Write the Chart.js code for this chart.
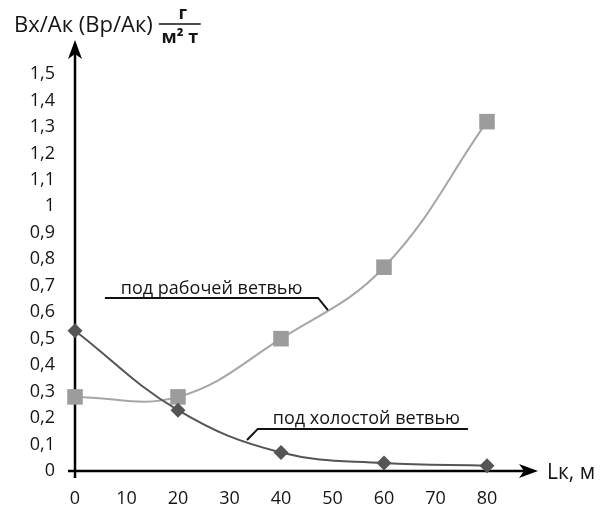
<!DOCTYPE html>
<html><head><meta charset="utf-8">
<script src="https://cdn.jsdelivr.net/npm/chart.js@4"></script>
<style>html,body{margin:0;padding:0;background:#fff}#wrap{width:607px;height:509px;position:relative}</style>
</head><body><div id="wrap"><canvas id="c" width="607" height="509"></canvas></div>
<script>
const distances = [0, 20, 40, 60, 80];
const workingBranch = [0.28, 0.28, 0.50, 0.77, 1.32];
const idleBranch = [0.53, 0.23, 0.07, 0.03, 0.02];
const xTickValues = [0, 10, 20, 30, 40, 50, 60, 70, 80];
const yTickValues = [0, 0.1, 0.2, 0.3, 0.4, 0.5, 0.6, 0.7, 0.8, 0.9, 1, 1.1, 1.2, 1.3, 1.4, 1.5];
const yTitle = 'Вх/Ак (Вр/Ак)';
const unitNum = 'г';
const unitDen = 'м² т';
const xTitle = 'Lк, м';
const labelWorking = 'под рабочей ветвью';
const labelIdle = 'под холостой ветвью';

const FONT = '"Open Sans", "DejaVu Sans", sans-serif';
const TXT = '#151515';

function fmt(v){ return String(Number(Number(v).toFixed(1))).replace('.', ','); }

function arrow(ctx, tx, ty, dx, dy){
  const L = 19, W = 7, N = 5;
  const px = -dy, py = dx;
  ctx.beginPath();
  ctx.moveTo(tx, ty);
  ctx.lineTo(tx - dx*L + px*W, ty - dy*L + py*W);
  ctx.lineTo(tx - dx*(L-N), ty - dy*(L-N));
  ctx.lineTo(tx - dx*L - px*W, ty - dy*L - py*W);
  ctx.closePath();
  ctx.fill();
}

const decor = {
  id: 'decor',
  beforeDatasetsDraw(chart){
    const {ctx, scales:{x, y}} = chart;
    const x0 = x.getPixelForValue(0), y0 = y.getPixelForValue(0);
    const xEnd = x.getPixelForValue(80) + 51;
    const yEnd = y.getPixelForValue(1.5) - 34;
    ctx.save();
    ctx.strokeStyle = '#000'; ctx.fillStyle = '#000'; ctx.lineWidth = 2.5;
    ctx.beginPath(); ctx.moveTo(x0 - 7, y0); ctx.lineTo(xEnd - 10, y0); ctx.stroke();
    ctx.beginPath(); ctx.moveTo(x0, y0 + 7); ctx.lineTo(x0, yEnd + 10); ctx.stroke();
    arrow(ctx, xEnd, y0, 1, 0);
    arrow(ctx, x0, yEnd, 0, -1);
    ctx.fillStyle = TXT;
    ctx.font = '21px ' + FONT;
    ctx.textBaseline = 'alphabetic'; ctx.textAlign = 'left';
    ctx.fillText(xTitle, xEnd + 9, y0 + 8);
    ctx.font = '22px ' + FONT;
    ctx.fillText(yTitle, 14, 32);
    const w = ctx.measureText(yTitle).width;
    const fx = 14 + w + 6, fw = 42;
    ctx.lineWidth = 1.4; ctx.strokeStyle = TXT;
    ctx.beginPath(); ctx.moveTo(fx, 24); ctx.lineTo(fx + fw, 24); ctx.stroke();
    ctx.textAlign = 'center';
    ctx.font = 'bold 18px ' + FONT;
    ctx.fillText(unitNum, fx + fw/2 + 3, 19);
    ctx.fillText(unitDen, fx + fw/2, 43);
    ctx.restore();
  },
  afterDatasetsDraw(chart){
    const {ctx, scales:{x, y}} = chart;
    const P = (a, b) => [x.getPixelForValue(a), y.getPixelForValue(b)];
    ctx.save();
    ctx.fillStyle = TXT; ctx.strokeStyle = '#111'; ctx.lineWidth = 2;
    ctx.font = '18px ' + FONT; ctx.textAlign = 'left'; ctx.textBaseline = 'alphabetic';
    let t = P(8.9, 0.668); ctx.fillText(labelWorking, t[0], t[1]);
    let a = P(5.8, 0.654), b = P(47.2, 0.654), c = P(49.1, 0.608);
    ctx.beginPath(); ctx.moveTo(a[0], a[1]); ctx.lineTo(b[0], b[1]); ctx.lineTo(c[0], c[1]); ctx.stroke();
    t = P(38.4, 0.176); ctx.fillText(labelIdle, t[0], t[1]);
    a = P(76.3, 0.159); b = P(35.5, 0.159); c = P(33.4, 0.117);
    ctx.beginPath(); ctx.moveTo(a[0], a[1]); ctx.lineTo(b[0], b[1]); ctx.lineTo(c[0], c[1]); ctx.stroke();
    ctx.restore();
  }
};

new Chart(document.getElementById('c'), {
  type: 'line',
  data: {
    datasets: [
      {
        label: labelWorking,
        data: distances.map((d, i) => ({x: d, y: workingBranch[i]})),
        borderColor: '#a6a6a6', backgroundColor: '#9c9c9c',
        borderWidth: 2, tension: 0.4, clip: false,
        pointStyle: 'rect', pointRadius: 11, pointBorderWidth: 0,
        pointBackgroundColor: '#9c9c9c', order: 1
      },
      {
        label: labelIdle,
        data: distances.map((d, i) => ({x: d, y: idleBranch[i]})),
        borderColor: '#555555', backgroundColor: '#555555',
        borderWidth: 2, tension: 0.4, clip: false,
        pointStyle: 'rectRot', pointRadius: 7.5, pointBorderWidth: 0,
        pointBackgroundColor: '#555555', order: 0
      }
    ]
  },
  options: {
    responsive: false, animation: false,
    layout: { padding: { top: 74, left: 0, right: 120, bottom: 0 } },
    plugins: { legend: { display: false }, tooltip: { enabled: false } },
    scales: {
      x: {
        type: 'linear', min: 0, max: 80,
        grid: { display: false, drawTicks: false }, border: { display: false },
        afterBuildTicks: s => { s.ticks = xTickValues.map(v => ({value: v})); },
        afterFit: s => { s.height = 38; },
        ticks: { padding: 17, color: TXT, font: { family: FONT, size: 18 }, maxRotation: 0, autoSkip: false,
                 callback: v => fmt(v) }
      },
      y: {
        type: 'linear', min: 0, max: 1.5,
        grid: { display: false, drawTicks: false }, border: { display: false },
        afterBuildTicks: s => { s.ticks = yTickValues.map(v => ({value: v})); },
        afterFit: s => { s.width = 75; },
        ticks: { padding: 20, color: TXT, font: { family: FONT, size: 18 }, autoSkip: false,
                 callback: v => fmt(v) }
      }
    }
  },
  plugins: [decor]
});
</script></body></html>
